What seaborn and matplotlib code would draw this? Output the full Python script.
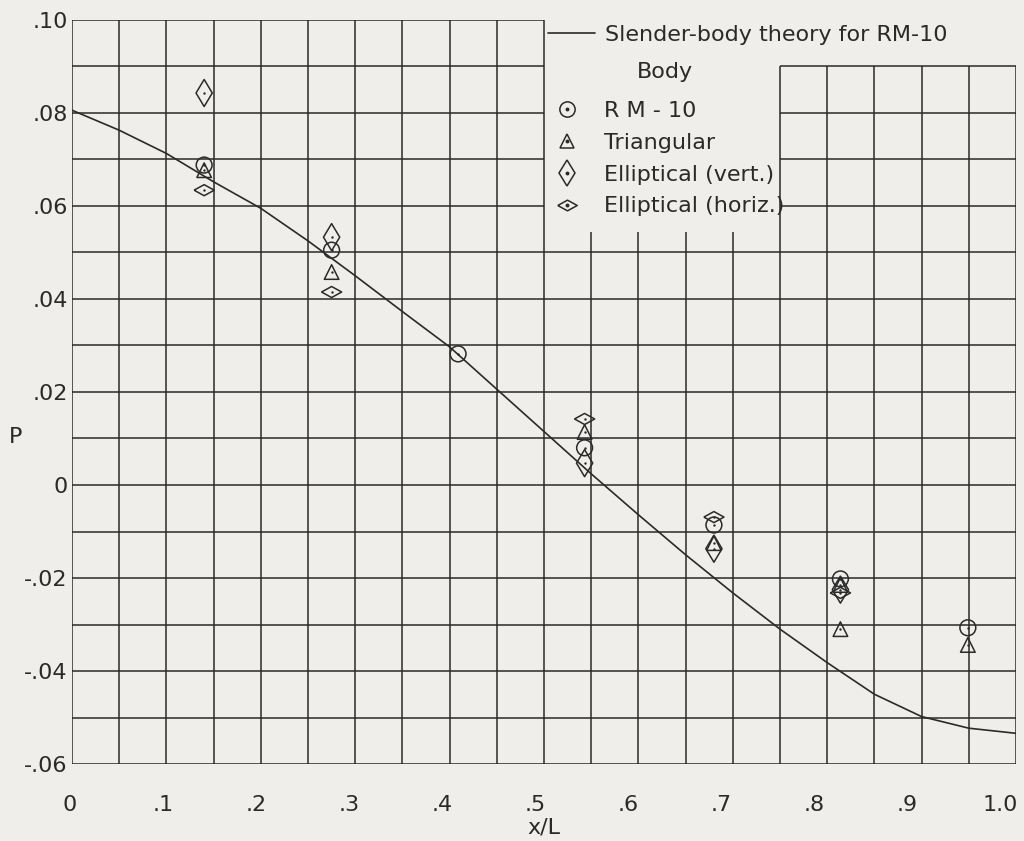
import numpy as np
import pandas as pd
import matplotlib
matplotlib.use("Agg")
import matplotlib.pyplot as plt
import matplotlib.transforms as mtransforms
import seaborn as sns
from matplotlib.lines import Line2D

# ---------------- data ----------------
theory_x = [0.0, 0.05, 0.10, 0.15, 0.20, 0.25, 0.30, 0.35, 0.40, 0.45, 0.50,
            0.55, 0.60, 0.65, 0.70, 0.75, 0.80, 0.85, 0.90, 0.95, 1.00]
theory_p = [0.0806, 0.0763, 0.0713, 0.0652, 0.0595, 0.0525, 0.0450, 0.0373,
            0.0297, 0.0206, 0.0115, 0.0024, -0.0064, -0.0150, -0.0232,
            -0.0310, -0.0382, -0.0450, -0.0498, -0.0523, -0.0534]

rm10_x = [0.140, 0.275, 0.409, 0.543, 0.680, 0.814, 0.949]
rm10_p = [0.0688, 0.0505, 0.0282, 0.0080, -0.0086, -0.0202, -0.0307]

tri_x = [0.140, 0.275, 0.543, 0.680, 0.814, 0.814, 0.949]
tri_p = [0.0677, 0.0458, 0.0114, -0.0125, -0.0215, -0.0310, -0.0344]

vert_x = [0.140, 0.275, 0.543, 0.680, 0.814]
vert_p = [0.0843, 0.0533, 0.0047, -0.0137, -0.0225]

horiz_x = [0.140, 0.275, 0.543, 0.680, 0.814]
horiz_p = [0.0634, 0.0415, 0.0142, -0.0069, -0.0232]

x_ticks = [0.0, 0.1, 0.2, 0.3, 0.4, 0.5, 0.6, 0.7, 0.8, 0.9, 1.0]
x_tick_labels = ["0", ".1", ".2", ".3", ".4", ".5", ".6", ".7", ".8", ".9", "1.0"]
y_ticks = [0.10, 0.08, 0.06, 0.04, 0.02, 0.0, -0.02, -0.04, -0.06]
y_tick_labels = [".10", ".08", ".06", ".04", ".02", "0", "-.02", "-.04", "-.06"]

body_title = "Body"
body_labels = ["R M - 10", "Triangular", "Elliptical (vert.)", "Elliptical (horiz.)"]
theory_label = "Slender-body theory for RM-10"

# ---------------- style ----------------
sns.set_style("white")
plt.rcParams["font.family"] = ["DejaVu Sans"]
BG = "#efeeea"
INK = "#2a2a2a"

fig = plt.figure(figsize=(10.24, 8.41), dpi=100, facecolor=BG)
ax = fig.add_axes([72 / 1024, 1 - 764 / 841, (1016 - 72) / 1024, (764 - 20) / 841])
ax.set_facecolor(BG)
ax.set_xlim(0, 1.0)
ax.set_ylim(-0.06, 0.10)
for s in ax.spines.values():
    s.set_visible(False)

# graph-paper grid with the blank legend area
glw = 1.1
for gx in np.round(np.arange(0, 1.0001, 0.05), 2):
    if gx <= 0.5:
        top = 0.10
    elif gx < 0.75:
        top = 0.0545
    else:
        top = 0.09
    ax.vlines(gx, -0.06, top, color=INK, lw=glw, zorder=1)
for gy in np.round(np.arange(-0.06, 0.1001, 0.01), 2):
    if gy <= 0.05:
        segs = [(0, 1.0)]
    elif gy < 0.095:
        segs = [(0, 0.5), (0.75, 1.0)]
    else:
        segs = [(0, 0.5)]
    for a, b in segs:
        ax.hlines(gy, a, b, color=INK, lw=glw, zorder=1)

# theory curve
theory_df = pd.DataFrame({"x": theory_x, "p": theory_p})
sns.lineplot(data=theory_df, x="x", y="p", ax=ax, color=INK, lw=1.2, zorder=3,
             estimator=None, sort=False)

# horizontal diamond marker
hdiamond = [(-1, 0), (0, 0.55), (1, 0), (0, -0.55), (-1, 0)]

series = [
    (rm10_x, rm10_p, "o", 130),
    (tri_x, tri_p, "^", 110),
    (vert_x, vert_p, "d", 190),
    (horiz_x, horiz_p, hdiamond, 210),
]
for xs, ps, mk, sz in series:
    df = pd.DataFrame({"x": xs, "p": ps})
    sns.scatterplot(data=df, x="x", y="p", ax=ax, marker=mk, s=sz, zorder=4,
                    linewidth=1.1, legend=False)
    coll = ax.collections[-1]
    coll.set_facecolor("none")
    coll.set_edgecolor(INK)
    sns.scatterplot(data=df, x="x", y="p", ax=ax, marker="o", s=3, zorder=5,
                    color=INK, linewidth=0, legend=False)

# ticks & labels
ax.set_xticks(x_ticks)
ax.set_xticklabels(x_tick_labels)
ax.set_yticks(y_ticks)
ax.set_yticklabels(y_tick_labels)
ax.tick_params(axis="both", length=0, labelsize=16, colors=INK)
ax.tick_params(axis="x", pad=22)
ax.tick_params(axis="y", pad=3)
# hand-lettered labels sit a little left of their grid lines
for tv, lab in zip(x_ticks, ax.get_xticklabels()):
    off = mtransforms.ScaledTranslation(-(2 + 14 * tv) / 100, 0, fig.dpi_scale_trans)
    lab.set_transform(lab.get_transform() + off)
ax.set_xlabel("x/L", fontsize=16, color=INK)
ax.xaxis.set_label_coords(0.5, -0.072)
ax.set_ylabel("P", fontsize=16, color=INK, rotation=0, va="center", ha="center")
ax.yaxis.set_label_coords(-0.06, 0.44)

# legends
h_line = Line2D([], [], color=INK, lw=1.2)
leg1 = ax.legend([h_line], [theory_label], loc="upper left",
                 bbox_to_anchor=((548 - 72) / 944, (764 - 25) / 744),
                 frameon=False, fontsize=16, handlelength=2.1,
                 handletextpad=0.45, borderpad=0, borderaxespad=0,
                 labelcolor=INK)
ax.add_artist(leg1)

ax.text((665 - 72) / 944, (764 - 72) / 744, body_title, transform=ax.transAxes,
        fontsize=16, color=INK, ha="center", va="center")

mk_sizes = [11, 10, 13.5, 14]
mk_list = ["o", "^", "d", hdiamond]
handles = []
for mk, ms in zip(mk_list, mk_sizes):
    h1 = Line2D([], [], ls="none", marker=mk, ms=ms, mfc="none", mec=INK, mew=1.1)
    h2 = Line2D([], [], ls="none", marker="o", ms=1.8, mfc=INK, mec=INK)
    handles.append((h1, h2))
leg2 = ax.legend(handles, body_labels, loc="upper left",
                 bbox_to_anchor=((553 - 72) / 944, (764 - 101) / 744),
                 frameon=False, fontsize=16,
                 handlelength=1.3, handletextpad=1.0, labelspacing=0.53,
                 borderpad=0, borderaxespad=0, labelcolor=INK)

fig.savefig("out.png", dpi=100, facecolor=BG)
